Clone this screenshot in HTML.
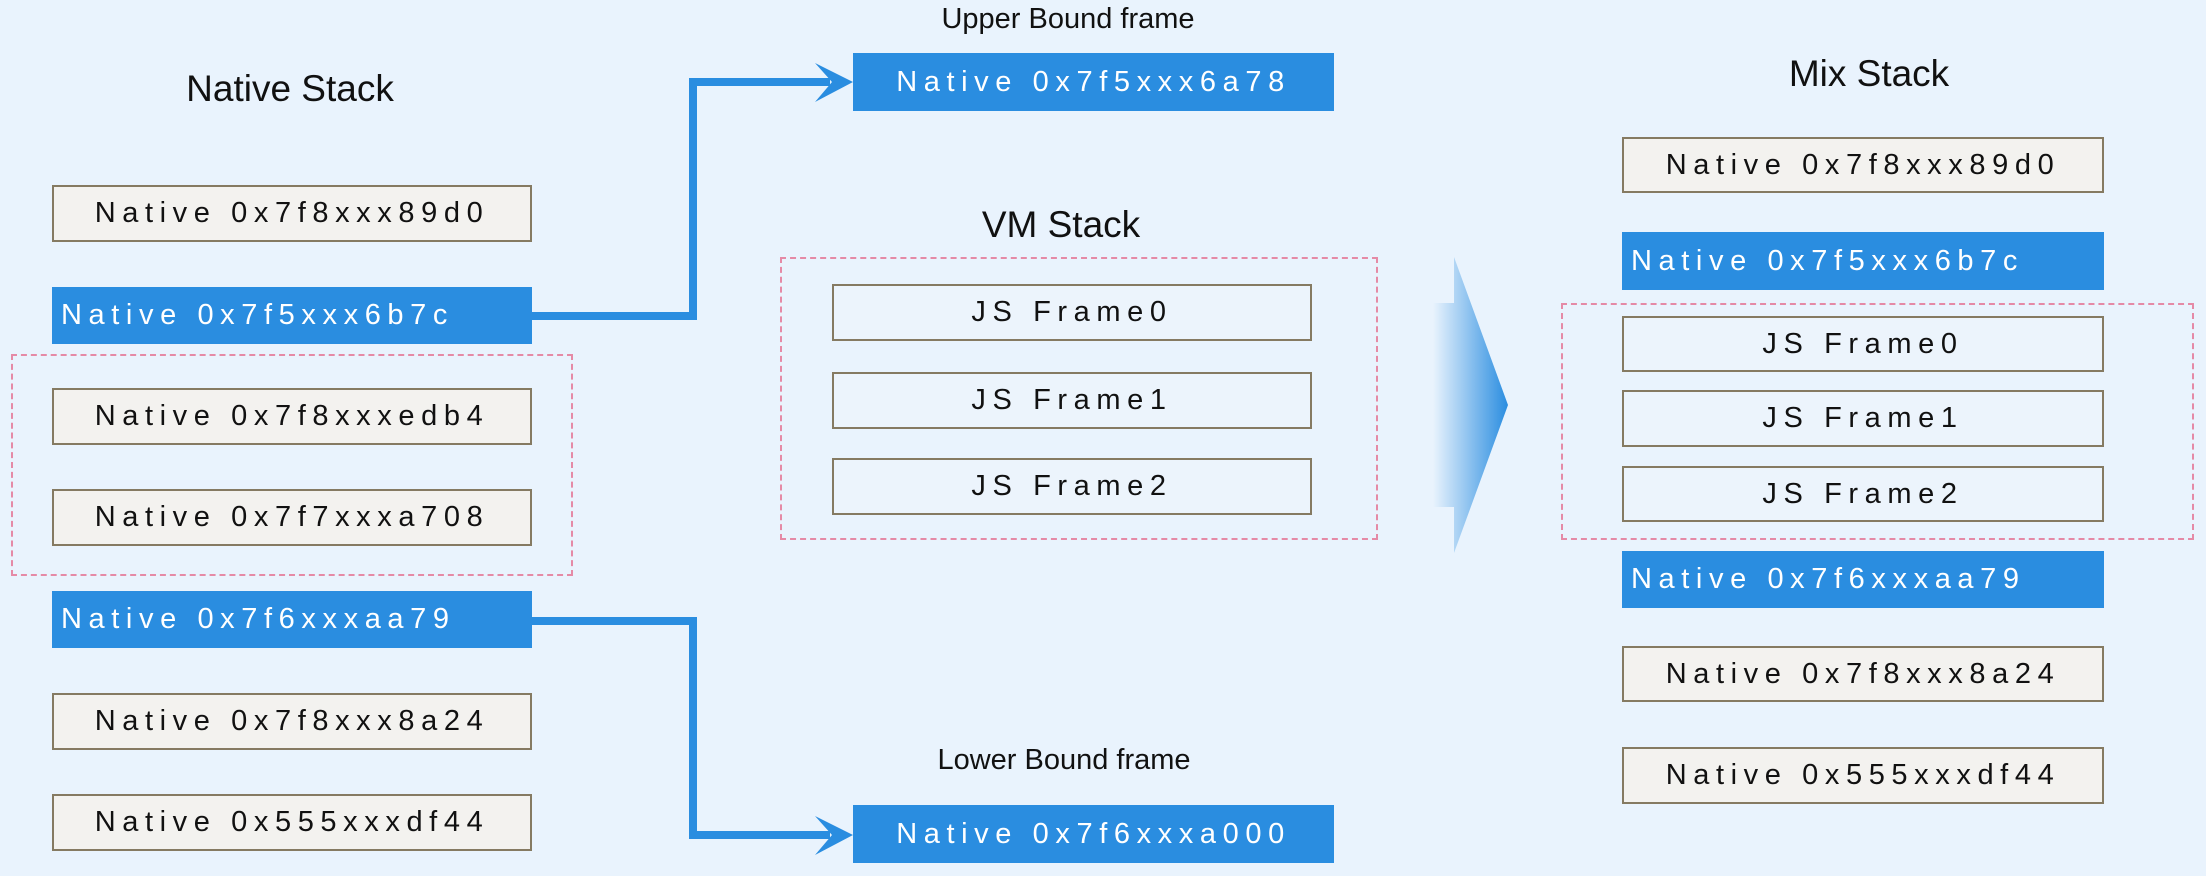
<!DOCTYPE html>
<html><head><meta charset="utf-8"><style>
body{margin:0;width:2206px;height:876px;background:#e9f3fd;position:relative;overflow:hidden;font-family:"Liberation Sans",sans-serif;}
.b{position:absolute;box-sizing:border-box;display:flex;align-items:center;font-size:29px;letter-spacing:6.6px;white-space:nowrap;}
.w{background:#f3f2ef;border:2.5px solid #857a62;color:#111;justify-content:center;}
.j{background:#ecf4fc;border:2.5px solid #857a62;color:#111;justify-content:center;}
.u{background:#2a8de0;color:#fff;padding-left:9px;}
.uc{background:#2a8de0;color:#fff;justify-content:center;}
.d{position:absolute;box-sizing:border-box;border:2px dashed #e58aa6;}
.t{position:absolute;transform:translateX(-50%);white-space:nowrap;color:#111;}
</style></head><body>
<div class="t" style="left:290px;top:68px;font-size:37px;">Native Stack</div>
<div class="t" style="left:1068px;top:3px;font-size:29px;">Upper Bound frame</div>
<div class="t" style="left:1064px;top:744px;font-size:29px;">Lower Bound frame</div>
<div class="t" style="left:1061px;top:204px;font-size:37px;">VM Stack</div>
<div class="t" style="left:1869px;top:53px;font-size:37px;">Mix Stack</div>

<svg style="position:absolute;left:0;top:0" width="2206" height="876">
<defs><linearGradient id="g" x1="0" x2="1"><stop offset="0" stop-color="#2a8de0" stop-opacity="0"/><stop offset="1" stop-color="#2a8de0"/></linearGradient></defs>
<polyline points="532,316 693,316 693,82 830,82" fill="none" stroke="#2a8de0" stroke-width="8"/>
<polygon points="853,82 815,63 832,82 815,102" fill="#2a8de0"/>
<polyline points="532,621 693,621 693,835 830,835" fill="none" stroke="#2a8de0" stroke-width="8"/>
<polygon points="853,835 815,816 832,835 815,855" fill="#2a8de0"/>
<polygon points="1433,303 1454,303 1454,257 1508,405 1454,553 1454,507 1433,507" fill="url(#g)"/>
</svg>

<div class="d" style="left:11px;top:354px;width:562px;height:222px;"></div>
<div class="b w" style="left:52px;top:185px;width:480px;height:57px;">Native 0x7f8xxx89d0</div>
<div class="b u" style="left:52px;top:287px;width:480px;height:57px;">Native 0x7f5xxx6b7c</div>
<div class="b w" style="left:52px;top:388px;width:480px;height:57px;">Native 0x7f8xxxedb4</div>
<div class="b w" style="left:52px;top:489px;width:480px;height:57px;">Native 0x7f7xxxa708</div>
<div class="b u" style="left:52px;top:591px;width:480px;height:57px;">Native 0x7f6xxxaa79</div>
<div class="b w" style="left:52px;top:693px;width:480px;height:57px;">Native 0x7f8xxx8a24</div>
<div class="b w" style="left:52px;top:794px;width:480px;height:57px;">Native 0x555xxxdf44</div>

<div class="b uc" style="left:853px;top:53px;width:481px;height:58px;">Native 0x7f5xxx6a78</div>
<div class="b uc" style="left:853px;top:805px;width:481px;height:58px;">Native 0x7f6xxxa000</div>

<div class="d" style="left:780px;top:257px;width:598px;height:283px;"></div>
<div class="b j" style="left:832px;top:284px;width:480px;height:57px;">JS Frame0</div>
<div class="b j" style="left:832px;top:372px;width:480px;height:57px;">JS Frame1</div>
<div class="b j" style="left:832px;top:458px;width:480px;height:57px;">JS Frame2</div>

<div class="d" style="left:1561px;top:303px;width:633px;height:237px;"></div>
<div class="b w" style="left:1622px;top:137px;width:482px;height:56px;">Native 0x7f8xxx89d0</div>
<div class="b u" style="left:1622px;top:232px;width:482px;height:58px;">Native 0x7f5xxx6b7c</div>
<div class="b j" style="left:1622px;top:316px;width:482px;height:56px;">JS Frame0</div>
<div class="b j" style="left:1622px;top:390px;width:482px;height:57px;">JS Frame1</div>
<div class="b j" style="left:1622px;top:466px;width:482px;height:56px;">JS Frame2</div>
<div class="b u" style="left:1622px;top:551px;width:482px;height:57px;">Native 0x7f6xxxaa79</div>
<div class="b w" style="left:1622px;top:646px;width:482px;height:56px;">Native 0x7f8xxx8a24</div>
<div class="b w" style="left:1622px;top:747px;width:482px;height:57px;">Native 0x555xxxdf44</div>
</body></html>
